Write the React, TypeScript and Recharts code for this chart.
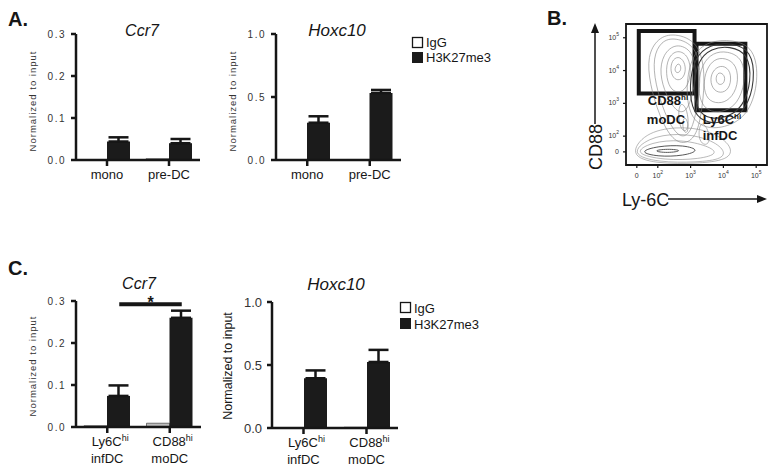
import React from 'react';
import {
  BarChart,
  Bar,
  XAxis,
  YAxis,
  ErrorBar,
  ReferenceLine,
  ScatterChart,
  Scatter,
  ReferenceArea,
} from 'recharts';

const FONT = '"Liberation Sans", Arial, Helvetica, sans-serif';
const INK = '#161616';

// ---------- Panel A ----------
const aCategories = ['mono', 'pre-DC'];
const aCcr7IgG = [0.001, 0.003];
const aCcr7H3 = [0.044, 0.04];
const aCcr7H3Err = [0.01, 0.01];
const aHoxIgG = [0.002, 0.004];
const aHoxH3 = [0.296, 0.532];
const aHoxH3Err = [0.051, 0.024];
const aCcr7Ticks = [0, 0.1, 0.2, 0.3];
const aHoxTicks = [0, 0.5, 1.0];

// ---------- Panel C ----------
const cCatMain = ['Ly6C', 'CD88'];
const cCatSup = ['hi', 'hi'];
const cCatSub = ['infDC', 'moDC'];
const cCcr7IgG = [0.003, 0.009];
const cCcr7H3 = [0.074, 0.26];
const cCcr7H3Err = [0.025, 0.017];
const cHoxIgG = [0.003, 0.006];
const cHoxH3 = [0.395, 0.524];
const cHoxH3Err = [0.062, 0.096];
const cCcr7Sig = 0.292;

const seriesNames = ['IgG', 'H3K27me3'];

// ---------- Panel B (flow cytometry, axis units = log10 decades) ----------
const flowXDomain = [1.03, 5.33];
const flowYDomain = [1.12, 5.42];
const flowXTickVals = [1.36, 2, 3, 4, 5];
const flowXTickExps = ['', '2', '3', '4', '5'];
const flowYTickVals = [1.52, 2, 3, 4, 5];
const flowYTickExps = ['', '2', '3', '4', '5'];
const gateMoDC = [1.42, 3.12, 3.3, 5.21];
const gateInfDC = [3.18, 4.67, 2.79, 4.82];

const contourMoDC: number[][][] = [
  [[2.62, 4.25], [2.72, 4.12], [2.68, 3.95], [2.56, 3.92], [2.5, 4.05]],
  [[2.62, 4.45], [2.82, 4.28], [2.86, 3.95], [2.72, 3.7], [2.5, 3.72], [2.38, 3.98], [2.42, 4.3]],
  [[2.6, 4.65], [2.95, 4.45], [3.02, 3.9], [2.88, 3.45], [2.62, 3.3], [2.36, 3.45], [2.24, 3.9], [2.3, 4.4]],
  [[2.56, 4.85], [3.08, 4.6], [3.18, 3.9], [3.05, 3.2], [2.85, 2.7], [2.55, 2.75], [2.25, 3.25], [2.05, 3.9], [2.15, 4.5]],
  [[2.52, 5.02], [3.18, 4.75], [3.32, 3.9], [3.22, 3.0], [3.08, 2.3], [2.85, 1.95], [2.55, 2.05], [2.2, 2.7], [1.92, 3.6], [1.85, 4.4], [2.1, 4.9]],
  [[2.5, 5.15], [3.25, 4.88], [3.45, 3.9], [3.36, 2.9], [3.22, 2.1], [2.9, 1.75], [2.45, 1.85], [2.05, 2.6], [1.75, 3.6], [1.68, 4.45], [2.0, 5.0]],
  [[2.72, 3.05], [2.9, 2.8], [2.95, 2.3], [2.82, 2.1], [2.66, 2.3], [2.62, 2.8]],
  [[2.85, 2.6], [2.95, 2.3], [2.88, 2.05], [2.76, 2.2], [2.76, 2.5]],
];

const contourInfDC: number[][][] = [
  [[3.92, 3.95], [4.06, 3.82], [4.02, 3.6], [3.86, 3.55], [3.76, 3.7], [3.8, 3.9]],
  [[3.98, 4.18], [4.24, 3.98], [4.22, 3.5], [3.98, 3.3], [3.7, 3.38], [3.58, 3.72], [3.7, 4.05]],
  [[4.05, 4.4], [4.42, 4.18], [4.46, 3.55], [4.2, 3.1], [3.85, 2.98], [3.5, 3.1], [3.38, 3.55], [3.48, 4.05], [3.72, 4.35]],
  [[4.12, 4.6], [4.6, 4.38], [4.68, 3.62], [4.42, 2.98], [4.05, 2.75], [3.62, 2.72], [3.3, 2.98], [3.22, 3.6], [3.35, 4.2], [3.68, 4.55]],
  [[4.2, 4.75], [4.76, 4.52], [4.86, 3.68], [4.6, 2.9], [4.15, 2.58], [3.6, 2.5], [3.18, 2.78], [3.08, 3.55], [3.22, 4.3], [3.62, 4.68]],
  [[4.25, 4.85], [4.86, 4.62], [4.97, 3.7], [4.7, 2.82], [4.2, 2.45], [3.55, 2.36], [3.06, 2.68], [2.95, 3.55], [3.12, 4.4], [3.58, 4.8]],
  [[4.28, 4.95], [4.95, 4.7], [5.08, 3.7], [4.8, 2.72], [4.22, 2.3], [3.5, 2.2], [2.98, 2.55], [2.84, 3.5], [3.04, 4.5], [3.55, 4.9]],
];

const contourLow: number[][][] = [
  [[1.8, 1.55], [2.3, 1.62], [2.8, 1.56], [2.3, 1.48]],
  [[1.4, 1.52], [2.0, 1.7], [2.8, 1.73], [3.3, 1.57], [2.8, 1.4], [2.0, 1.37]],
  [[1.22, 1.48], [1.8, 1.82], [2.7, 1.9], [3.55, 1.7], [3.85, 1.47], [3.3, 1.3], [2.2, 1.26]],
  [[1.15, 1.45], [1.7, 1.95], [2.6, 2.1], [3.5, 1.95], [4.05, 1.6], [4.0, 1.3], [3.2, 1.2], [2.0, 1.2]],
  [[1.12, 1.42], [1.6, 2.1], [2.55, 2.3], [3.55, 2.2], [4.25, 1.75], [4.25, 1.3], [3.3, 1.16], [1.9, 1.16]],
  [[3.3, 2.5], [3.55, 2.2], [3.6, 1.8], [3.4, 1.7], [3.22, 1.95]],
];

// ---------- helpers ----------
const toBarData = (cats: string[], igg: number[], h3: number[], err: number[]) =>
  cats.map((c, i) => ({ name: c, igg: igg[i], h3: h3[i], h3err: [0, err[i]] }));

const aCcr7Data = toBarData(aCategories, aCcr7IgG, aCcr7H3, aCcr7H3Err);
const aHoxData = toBarData(aCategories, aHoxIgG, aHoxH3, aHoxH3Err);
const cNames = cCatMain.map((m, i) => `${m}|${cCatSup[i]}|${cCatSub[i]}`);
const cCcr7Data = toBarData(cNames, cCcr7IgG, cCcr7H3, cCcr7H3Err);
const cHoxData = toBarData(cNames, cHoxIgG, cHoxH3, cHoxH3Err);

const ringData = (ring: number[][]) => ring.map(([x, y]) => ({ x, y }));

const OneLineTick = (props: any) => {
  const { x, y, payload } = props;
  return (
    <text x={x} y={y + 11} textAnchor="middle" fill={INK} fontSize={13} fontFamily={FONT}>
      {payload.value}
    </text>
  );
};

const TwoLineTick = (props: any) => {
  const { x, y, payload } = props;
  const [main, sup, sub] = String(payload.value).split('|');
  return (
    <text x={x} y={y + 11} textAnchor="middle" fill={INK} fontSize={13} fontFamily={FONT}>
      <tspan x={x + 3}>{main}</tspan>
      <tspan dy={-5} fontSize={9}>{sup}</tspan>
      <tspan x={x} dy={22}>{sub}</tspan>
    </text>
  );
};

const FlowTickX = (props: any) => {
  const { x, y, payload } = props;
  const i = flowXTickVals.indexOf(payload.value);
  const exp = flowXTickExps[i];
  return (
    <text x={x} y={y + 8} textAnchor="middle" fill="#333" fontSize={7} fontFamily={FONT}>
      {exp === '' ? '0' : '10'}
      {exp !== '' && (
        <tspan dy={-4} fontSize={5}>
          {exp}
        </tspan>
      )}
    </text>
  );
};

const FlowTickY = (props: any) => {
  const { x, y, payload } = props;
  const i = flowYTickVals.indexOf(payload.value);
  const exp = flowYTickExps[i];
  return (
    <text x={x - 2} y={y + 2} textAnchor="end" fill="#333" fontSize={7} fontFamily={FONT}>
      {exp === '' ? '0' : '10'}
      {exp !== '' && (
        <tspan dy={-4} fontSize={5}>
          {exp}
        </tspan>
      )}
    </text>
  );
};

type PanelProps = {
  left: number;
  top: number;
  pw: number;
  ph: number;
  data: any[];
  ticks: number[];
  domain: [number, number];
  tickFont: number;
  tickSpacing: number;
  twoLine?: boolean;
  sig?: number;
};

const YW = 60;

const BarPanel = ({ left, top, pw, ph, data, ticks, domain, tickFont, tickSpacing, twoLine, sig }: PanelProps) => (
  <div style={{ position: 'absolute', left: left - YW, top: top - 10 }}>
    <BarChart
      width={pw + YW + 10}
      height={ph + 10 + 50}
      data={data}
      margin={{ top: 10, right: 10, left: 0, bottom: 0 }}
      barGap={0}
      barSize={23}
    >
      <XAxis
        dataKey="name"
        interval={0}
        height={50}
        axisLine={{ stroke: INK, strokeWidth: 2.5 }}
        tickLine={{ stroke: INK, strokeWidth: 2.5 }}
        tickSize={6}
        tick={twoLine ? <TwoLineTick /> : <OneLineTick />}
      />
      <YAxis
        width={YW}
        domain={domain}
        ticks={ticks}
        interval={0}
        allowDataOverflow
        axisLine={{ stroke: INK, strokeWidth: 2.5 }}
        tickLine={{ stroke: INK, strokeWidth: 2.5 }}
        tickSize={5}
        tickMargin={5}
        tickFormatter={(v: number) => v.toFixed(1)}
        tick={{ fill: '#333', fontSize: tickFont, fontFamily: FONT, letterSpacing: tickSpacing }}
      />
      <Bar dataKey="igg" name={seriesNames[0]} fill="#bdbdbd" stroke="#555" strokeWidth={0.8} isAnimationActive={false} />
      <Bar dataKey="h3" name={seriesNames[1]} fill="#1b1b1b" isAnimationActive={false}>
        <ErrorBar dataKey="h3err" width={10} stroke={INK} strokeWidth={2.5} direction="y" />
      </Bar>
      {sig !== undefined && (
        <ReferenceLine
          segment={[
            { x: data[0].name, y: sig },
            { x: data[1].name, y: sig },
          ]}
          shape={(p: any) => (
            <g>
              <line x1={p.x1 + 12} y1={p.y1} x2={p.x2 + 12} y2={p.y2} stroke={INK} strokeWidth={4} />
              <text
                x={(p.x1 + p.x2) / 2 + 12}
                y={p.y1 + 4}
                textAnchor="middle"
                fontSize={16}
                fontWeight="bold"
                fill={INK}
                fontFamily={FONT}
              >
                *
              </text>
            </g>
          )}
        />
      )}
    </BarChart>
  </div>
);

const FlowPanel = () => {
  const left = 626;
  const top = 24;
  const size = 141;
  const yw = 40;
  const rings: { ring: number[][]; color: string; w: number }[] = [];
  contourMoDC.forEach((r) => rings.push({ ring: r, color: '#808080', w: 0.6 }));
  contourInfDC.forEach((r, i) =>
    rings.push({ ring: r, color: i === 4 || i === 5 ? '#3a3a3a' : '#808080', w: i === 4 || i === 5 ? 1.1 : 0.6 })
  );
  contourLow.forEach((r, i) => rings.push({ ring: r, color: i < 2 ? '#444' : '#8a8a8a', w: i < 2 ? 0.9 : 0.6 }));
  return (
    <div style={{ position: 'absolute', left: left - yw, top: top - 10 }}>
      <ScatterChart width={size + yw + 10} height={size + 10 + 30} margin={{ top: 10, right: 10, left: 0, bottom: 0 }}>
        <XAxis
          type="number"
          dataKey="x"
          domain={flowXDomain}
          allowDataOverflow
          ticks={flowXTickVals}
          interval={0}
          height={30}
          axisLine={false}
          tickLine={{ stroke: INK, strokeWidth: 1.2 }}
          tickSize={3}
          tick={<FlowTickX />}
        />
        <YAxis
          type="number"
          dataKey="y"
          domain={flowYDomain}
          allowDataOverflow
          ticks={flowYTickVals}
          interval={0}
          width={yw}
          axisLine={false}
          tickLine={{ stroke: INK, strokeWidth: 1.2 }}
          tickSize={3}
          tick={<FlowTickY />}
        />
        {rings.map((r, i) => (
          <Scatter
            key={i}
            data={ringData(r.ring)}
            line={{ stroke: r.color, strokeWidth: r.w }}
            lineType="joint"
            lineJointType="basisClosed"
            shape={() => <g />}
            isAnimationActive={false}
          />
        ))}
        <ReferenceArea
          x1={flowXDomain[0]}
          x2={flowXDomain[1]}
          y1={flowYDomain[0]}
          y2={flowYDomain[1]}
          fill="none"
          fillOpacity={0}
          stroke={INK}
          strokeWidth={1.8}
        />
        <ReferenceArea
          x1={gateMoDC[0]}
          x2={gateMoDC[1]}
          y1={gateMoDC[2]}
          y2={gateMoDC[3]}
          fill="none"
          fillOpacity={0}
          stroke={INK}
          strokeWidth={4}
        />
        <ReferenceArea
          x1={gateInfDC[0]}
          x2={gateInfDC[1]}
          y1={gateInfDC[2]}
          y2={gateInfDC[3]}
          fill="none"
          fillOpacity={0}
          stroke={INK}
          strokeWidth={4}
        />
      </ScatterChart>
    </div>
  );
};

const Overlay = () => (
  <svg
    width={776}
    height={474}
    style={{ position: 'absolute', left: 0, top: 0, pointerEvents: 'none' }}
    fontFamily={FONT}
  >
    {/* panel letters */}
    <text x={8} y={26} fontSize={20} fontWeight="bold" fill={INK}>A.</text>
    <text x={547} y={25} fontSize={20} fontWeight="bold" fill={INK}>B.</text>
    <text x={8} y={275} fontSize={20} fontWeight="bold" fill={INK}>C.</text>

    {/* titles */}
    <text x={142} y={36} fontSize={16} fontStyle="italic" textAnchor="middle" fill={INK}>Ccr7</text>
    <text x={337} y={36} fontSize={17} fontStyle="italic" textAnchor="middle" fill={INK}>Hoxc10</text>
    <text x={139} y={289} fontSize={16} fontStyle="italic" textAnchor="middle" fill={INK}>Ccr7</text>
    <text x={336} y={290} fontSize={17} fontStyle="italic" textAnchor="middle" fill={INK}>Hoxc10</text>

    {/* y labels */}
    <text transform="translate(36,101) rotate(-90)" fontSize={9.5} letterSpacing={1} textAnchor="middle" fill="#333">Normalized to input</text>
    <text transform="translate(236,101) rotate(-90)" fontSize={9.5} letterSpacing={1} textAnchor="middle" fill="#333">Normalized to input</text>
    <text transform="translate(36,366) rotate(-90)" fontSize={9.5} letterSpacing={1} textAnchor="middle" fill="#333">Normalized to input</text>
    <text transform="translate(232,366) rotate(-90)" fontSize={12.5} textAnchor="middle" fill={INK}>Normalized to input</text>

    {/* legends */}
    <rect x={412.5} y={37.5} width={10} height={10} fill="#fff" stroke={INK} strokeWidth={1.3} />
    <text x={426} y={47} fontSize={13} fill={INK}>{seriesNames[0]}</text>
    <rect x={412} y={52} width={11} height={11} fill="#1b1b1b" />
    <text x={426} y={62} fontSize={13} fill={INK}>{seriesNames[1]}</text>

    <rect x={400.5} y={302.5} width={10} height={10} fill="#fff" stroke={INK} strokeWidth={1.3} />
    <text x={414} y={313} fontSize={13} fill={INK}>{seriesNames[0]}</text>
    <rect x={400} y={318} width={11} height={11} fill="#1b1b1b" />
    <text x={414} y={329} fontSize={13} fill={INK}>{seriesNames[1]}</text>

    {/* flow gate labels */}
    <text x={668} y={105} fontSize={13} fontWeight="bold" textAnchor="middle" fill={INK}>
      CD88<tspan dy={-5} fontSize={8}>hi</tspan>
    </text>
    <text x={666} y={124} fontSize={13} fontWeight="bold" textAnchor="middle" fill={INK}>moDC</text>
    <text x={722} y={124} fontSize={13} fontWeight="bold" textAnchor="middle" fill={INK}>
      Ly6C<tspan dy={-5} fontSize={8}>hi</tspan>
    </text>
    <text x={720} y={140} fontSize={13} fontWeight="bold" textAnchor="middle" fill={INK}>infDC</text>

    {/* flow axis titles with arrows */}
    <text transform="translate(602,147) rotate(-90)" fontSize={18} textAnchor="middle" fill={INK}>CD88</text>
    <line x1={595} y1={124} x2={595} y2={32} stroke={INK} strokeWidth={1.5} />
    <polygon points="591,33 599,33 595,23" fill={INK} />
    <text x={622} y={206} fontSize={18} fill={INK}>Ly-6C</text>
    <line x1={668} y1={199} x2={758} y2={199} stroke={INK} strokeWidth={1.5} />
    <polygon points="757,195 757,203 767,199" fill={INK} />
  </svg>
);

export default function App() {
  return (
    <div
      style={{
        position: 'fixed',
        left: 0,
        top: 0,
        width: 776,
        height: 474,
        background: '#fff',
        fontFamily: FONT,
        overflow: 'hidden',
      }}
    >
      <BarPanel left={76} top={34} pw={124} ph={126} data={aCcr7Data} ticks={aCcr7Ticks} domain={[0, 0.3]} tickFont={10} tickSpacing={1.5} />
      <BarPanel left={276} top={34} pw={125} ph={126} data={aHoxData} ticks={aHoxTicks} domain={[0, 1]} tickFont={10} tickSpacing={1.5} />
      <BarPanel left={76} top={301} pw={125} ph={126} data={cCcr7Data} ticks={aCcr7Ticks} domain={[0, 0.3]} tickFont={10} tickSpacing={1.5} twoLine sig={cCcr7Sig} />
      <BarPanel left={272} top={302} pw={126} ph={126} data={cHoxData} ticks={aHoxTicks} domain={[0, 1]} tickFont={13} tickSpacing={0} twoLine />
      <FlowPanel />
      <Overlay />
    </div>
  );
}
